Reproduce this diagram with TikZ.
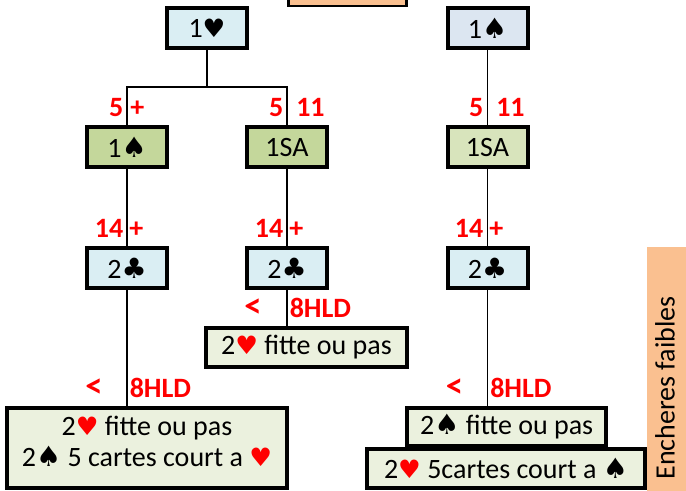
\documentclass[tikz,border=0pt]{standalone}
\usepackage{fontspec}
\setmainfont{Carlito}
\newfontfamily\suitfont{DejaVu Sans}
\usepackage{xcolor}
\definecolor{BleuCiel}{RGB}{218,238,243}
\definecolor{BleuGris}{RGB}{220,230,241}
\definecolor{VertOlive}{RGB}{196,215,155}
\definecolor{VertPale}{RGB}{216,228,188}
\definecolor{VertCreme}{RGB}{235,241,222}
\definecolor{Saumon}{RGB}{250,192,144}

% couleurs des enseignes
\newcommand{\coeur}{{\suitfont\fontsize{19}{19}\selectfont ♥}}
\newcommand{\pique}{{\suitfont\fontsize{21}{21}\selectfont ♠}}
\newcommand{\trefle}{{\suitfont\fontsize{21}{21}\selectfont ♣}}
\newcommand{\coeurR}{\textcolor{red}{\coeur}}
\newcommand{\moins}{{\fontsize{26}{26}\selectfont <}}

\tikzset{
	carte/.style={draw=black, line width=3pt, inner sep=0pt, align=center, font=\fontsize{21}{23.5}\selectfont},
	petite/.style={carte, minimum width=60pt, minimum height=30pt},
	cond/.style={text=red, inner sep=0pt, font=\bfseries\fontsize{21}{21}\selectfont},
	lien/.style={line width=1.1pt}
}

\begin{document}
\begin{tikzpicture}[x=0.75pt,y=0.75pt,yscale=-1,xscale=1]
		\path[use as bounding box] (0,0) rectangle (686,491);

		% Bandeaux orange (haut et droite)
		\filldraw[fill=Saumon, draw=black, line width=2pt] (288.5,-10) rectangle (406.5,6);
		\fill[Saumon] (647,247) rectangle (690,495);
		\node[rotate=90, inner sep=0pt, font=\fontsize{21}{21}\selectfont] (enchere) at (665,388) {Encheres faibles};

		% Ouvertures
		\node[petite, fill=BleuCiel] (h1) at (207,28) {1\coeur};
		\node[petite, fill=BleuGris] (s1) at (487.5,28) {1\pique};

		% Reponses
		\node[petite, fill=VertOlive] (sp1) at (127,147.5) {1\pique};
		\node[petite, fill=VertOlive] (nt1) at (287,147.5) {1SA};
		\node[petite, fill=VertPale] (nt2) at (487.5,147.5) {1SA};

		% Redemandes 2 trefle
		\node[petite, fill=BleuCiel] (tr1) at (127,268.3) {2\trefle};
		\node[petite, fill=BleuCiel] (tr2) at (287,268.3) {2\trefle};
		\node[petite, fill=BleuCiel] (tr3) at (487.5,268.3) {2\trefle};

		% Reponses faibles
		\node[carte, fill=VertCreme, minimum width=150.75pt, minimum height=29.25pt] (r2) at (306.5,347.5) {2\coeurR{} fitte ou pas};
		\node[carte, fill=VertCreme, minimum width=210pt, minimum height=60pt, text depth=10pt] (r1) at (147,448) {2\coeurR{} fitte ou pas\\ 2\pique{} 5 cartes court a \coeurR};
		\node[carte, fill=VertCreme, minimum width=149pt, minimum height=28.5pt] (r3a) at (506.7,427) {2\pique{} fitte ou pas};
		\node[carte, fill=VertCreme, minimum width=208.5pt, minimum height=29.25pt] (r3b) at (506,468.5) {2\coeurR{} 5cartes court a \pique};

		% Liens
		\coordinate (fourche) at (207,87);
		\draw[lien] (h1.south) -- (fourche) -| (sp1.north);
		\draw[lien] (fourche) -| (nt1.north);
		\draw[lien] (s1.south) -- (nt2.north);
		\draw[lien] (sp1.south) -- (tr1.north);
		\draw[lien] (nt1.south) -- (tr2.north);
		\draw[lien] (nt2.south) -- (tr3.north);
		\draw[lien] (tr1.south) -- (r1.north -| tr1.south);
		\draw[lien] (tr2.south) -- (r2.north -| tr2.south);
		\draw[lien] (tr3.south) -- (r3a.north -| tr3.south);

		% Conditions en rouge
		\node[cond, anchor=base east] (pt1g) at (123.5,117) {5};
		\node[cond, anchor=base west] (pt1d) at (130,117) {+};
		\node[cond, anchor=base east] (pt2g) at (283.5,117) {5};
		\node[cond, anchor=base west] (pt2d) at (296,117) {11};
		\node[cond, anchor=base east] (pt3g) at (483.5,117) {5};
		\node[cond, anchor=base west] (pt3d) at (496,117) {11};

		\node[cond, anchor=base east] (fo1g) at (123.5,238) {14};
		\node[cond, anchor=base west] (fo1d) at (129,238) {+};
		\node[cond, anchor=base east] (fo2g) at (283.5,238) {14};
		\node[cond, anchor=base west] (fo2d) at (289,238) {+};
		\node[cond, anchor=base east] (fo3g) at (483.5,238) {14};
		\node[cond, anchor=base west] (fo3d) at (489,238) {+};

		\node[cond, anchor=base east] (hl2g) at (262,318) {\moins};
		\node[cond, anchor=base west] (hl2d) at (289.5,318) {8HLD};
		\node[cond, anchor=base east] (hl1g) at (103,398) {\moins};
		\node[cond, anchor=base west] (hl1d) at (129.5,398) {8HLD};
		\node[cond, anchor=base east] (hl3g) at (463.5,398) {\moins};
		\node[cond, anchor=base west] (hl3d) at (490,398) {8HLD};
	\end{tikzpicture}
\end{document}
